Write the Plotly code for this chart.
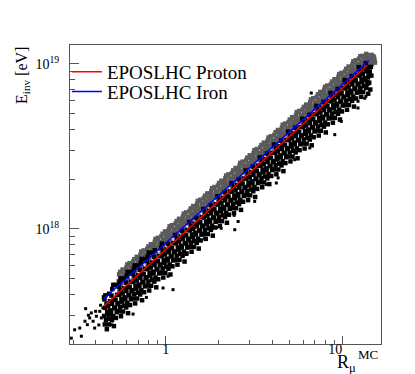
import plotly.graph_objects as go

# ---------------- data (x = R_mu^MC, energies in units of 1e18 eV) ----------------
iron_x = [
    0.545, 0.556, 0.542, 0.558, 0.550, 0.547, 0.552,
    0.597, 0.609, 0.594, 0.612, 0.603, 0.600, 0.606,
    0.654, 0.668, 0.651, 0.671, 0.661, 0.658, 0.664,
    0.717, 0.731, 0.713, 0.735, 0.724, 0.720, 0.727,
    0.786, 0.802, 0.782, 0.806, 0.794, 0.790, 0.798,
    0.862, 0.880, 0.858, 0.884, 0.871, 0.867, 0.875,
    0.945, 0.965, 0.941, 0.969, 0.955, 0.950, 0.960,
    1.037, 1.057, 1.031, 1.063, 1.047, 1.042, 1.052,
    1.137, 1.159, 1.131, 1.165, 1.148, 1.142, 1.153,
    1.246, 1.272, 1.240, 1.278, 1.259, 1.253, 1.265,
    1.366, 1.394, 1.359, 1.401, 1.380, 1.373, 1.387,
    1.499, 1.529, 1.491, 1.537, 1.514, 1.506, 1.520,
    1.643, 1.677, 1.635, 1.685, 1.660, 1.652, 1.668,
    1.802, 1.838, 1.793, 1.847, 1.820, 1.811, 1.829,
    1.975, 2.015, 1.965, 2.025, 1.995, 1.985, 2.005,
    2.166, 2.210, 2.155, 2.221, 2.188, 2.177, 2.199,
    2.375, 2.423, 2.363, 2.435, 2.399, 2.387, 2.411,
    2.604, 2.656, 2.591, 2.669, 2.630, 2.617, 2.643,
    2.855, 2.913, 2.841, 2.927, 2.884, 2.870, 2.898,
    3.130, 3.194, 3.115, 3.209, 3.162, 3.146, 3.178,
    3.432, 3.502, 3.415, 3.519, 3.467, 3.450, 3.484,
    3.764, 3.840, 3.745, 3.859, 3.802, 3.783, 3.821,
    4.127, 4.211, 4.106, 4.232, 4.169, 4.148, 4.190,
    4.525, 4.617, 4.502, 4.640, 4.571, 4.548, 4.594,
    4.962, 5.062, 4.937, 5.087, 5.012, 4.987, 5.037,
    5.440, 5.550, 5.413, 5.577, 5.495, 5.468, 5.522,
    5.966, 6.086, 5.936, 6.116, 6.026, 5.996, 6.056,
    6.541, 6.673, 6.508, 6.706, 6.607, 6.574, 6.640,
    7.172, 7.316, 7.135, 7.353, 7.244, 7.208, 7.280,
    7.864, 8.022, 7.824, 8.062, 7.943, 7.903, 7.983,
    8.623, 8.797, 8.579, 8.841, 8.710, 8.666, 8.754,
    9.455, 9.646, 9.407, 9.693, 9.550, 9.502, 9.598,
    10.37, 10.57, 10.31, 10.63, 10.47, 10.42, 10.52,
    11.37, 11.59, 11.31, 11.65, 11.48, 11.42, 11.54,
    12.46, 12.72, 12.40, 12.78, 12.59, 12.53, 12.65,
    13.66, 13.94, 13.59, 14.01, 13.80, 13.73,
    14.64, 14.94, 14.57, 15.01, 14.79, 14.72, 15.20, 15.30, 15.10,
    0.570, 0.582, 0.579, 0.573,
    0.625, 0.637, 0.634, 0.628,
    0.685, 0.699, 0.695, 0.689,
    0.750, 0.766, 0.762, 0.754,
    0.823, 0.839, 0.835, 0.827,
    0.903, 0.921, 0.917, 0.907,
    0.990, 1.010, 1.005, 0.995,
    1.085, 1.107, 1.101, 1.091,
    1.190, 1.214, 1.208, 1.196,
    1.305, 1.331, 1.325, 1.311,
    1.431, 1.459, 1.452, 1.438,
    1.569, 1.601, 1.593, 1.577,
    1.721, 1.755, 1.747, 1.729,
    1.887, 1.925, 1.916, 1.896,
    2.068, 2.110, 2.099, 2.079,
    2.268, 2.314, 2.302, 2.280,
    2.487, 2.537, 2.525, 2.499,
    2.726, 2.782, 2.768, 2.740,
    2.990, 3.050, 3.035, 3.005,
    3.278, 3.344, 3.328, 3.294,
    3.594, 3.666, 3.648, 3.612,
    3.941, 4.021, 4.001, 3.961,
    4.321, 4.409, 4.387, 4.343,
    4.738, 4.834, 4.810, 4.762,
    5.196, 5.300, 5.274, 5.222,
    5.696, 5.812, 5.783, 5.725,
    6.246, 6.372, 6.341, 6.277,
    6.849, 6.987, 6.953, 6.883,
    7.509, 7.661, 7.623, 7.547,
    8.234, 8.400, 8.359, 8.275,
    9.029, 9.211, 9.166, 9.074,
    9.90, 10.10, 10.05, 9.95,
    10.85, 11.07, 11.01, 10.91,
    11.90, 12.14, 12.08, 11.96,
    13.05, 13.31, 13.25, 13.11,
    14.31, 14.59, 14.52, 14.38,
]
iron_E = [
    0.531, 0.507, 0.484, 0.463, 0.442, 0.422, 0.550,
    0.567, 0.542, 0.517, 0.494, 0.471, 0.587, 0.610,
    0.634, 0.605, 0.578, 0.552, 0.527, 0.504, 0.656,
    0.677, 0.647, 0.617, 0.589, 0.563, 0.700, 0.729,
    0.757, 0.722, 0.690, 0.659, 0.629, 0.601, 0.784,
    0.808, 0.772, 0.737, 0.704, 0.672, 0.836, 0.870,
    0.903, 0.862, 0.824, 0.787, 0.751, 0.717, 0.935,
    0.964, 0.921, 0.879, 0.840, 0.802, 0.998, 1.038,
    1.078, 1.029, 0.983, 0.939, 0.897, 0.856, 1.117,
    1.151, 1.100, 1.050, 1.002, 0.957, 1.191, 1.239,
    1.287, 1.229, 1.174, 1.121, 1.071, 1.022, 1.333,
    1.374, 1.313, 1.253, 1.197, 1.143, 1.422, 1.480,
    1.536, 1.466, 1.401, 1.338, 1.278, 1.220, 1.591,
    1.640, 1.567, 1.496, 1.428, 1.364, 1.697, 1.766,
    1.833, 1.750, 1.672, 1.597, 1.525, 1.456, 1.899,
    1.958, 1.871, 1.785, 1.705, 1.628, 2.026, 2.108,
    2.188, 2.089, 1.996, 1.906, 1.820, 1.738, 2.266,
    2.337, 2.233, 2.131, 2.035, 1.943, 2.418, 2.516,
    2.613, 2.495, 2.383, 2.276, 2.174, 2.076, 2.706,
    2.789, 2.665, 2.543, 2.429, 2.319, 2.886, 3.003,
    3.118, 2.977, 2.844, 2.716, 2.594, 2.477, 3.229,
    3.330, 3.182, 3.036, 2.900, 2.769, 3.446, 3.585,
    3.723, 3.554, 3.395, 3.243, 3.097, 2.958, 3.856,
    3.975, 3.798, 3.624, 3.462, 3.306, 4.113, 4.280,
    4.444, 4.243, 4.053, 3.871, 3.697, 3.530, 4.603,
    4.744, 4.532, 4.325, 4.131, 3.945, 4.909, 5.107,
    5.304, 5.064, 4.837, 4.620, 4.412, 4.213, 5.493,
    5.663, 5.410, 5.163, 4.931, 4.709, 5.860, 6.097,
    6.330, 6.043, 5.773, 5.514, 5.266, 5.029, 6.556,
    6.760, 6.459, 6.164, 5.886, 5.621, 6.995, 7.278,
    7.555, 7.213, 6.890, 6.581, 6.285, 6.002, 7.825,
    8.068, 7.709, 7.356, 7.026, 6.709, 8.349, 8.687,
    9.019, 8.610, 8.225, 7.856, 7.502, 7.165, 9.341,
    9.632, 9.203, 8.782, 8.388, 8.010, 9.967, 10.37,
    10.77, 10.28, 9.819, 9.378, 8.956, 8.553, 11.15,
    11.50, 10.99, 10.49, 10.01, 9.563, 11.30,
    11.35, 11.15, 10.85, 10.95, 10.46, 9.986, 10.60, 10.20, 11.00,
    0.568, 0.536, 0.512, 0.489,
    0.621, 0.586, 0.559, 0.535,
    0.678, 0.640, 0.611, 0.584,
    0.741, 0.699, 0.668, 0.638,
    0.809, 0.764, 0.730, 0.697,
    0.884, 0.835, 0.797, 0.762,
    0.966, 0.912, 0.871, 0.832,
    1.055, 0.996, 0.951, 0.909,
    1.153, 1.088, 1.040, 0.994,
    1.260, 1.189, 1.136, 1.086,
    1.377, 1.299, 1.241, 1.186,
    1.504, 1.420, 1.356, 1.296,
    1.643, 1.551, 1.481, 1.416,
    1.795, 1.694, 1.618, 1.547,
    1.961, 1.851, 1.768, 1.690,
    2.143, 2.022, 1.932, 1.846,
    2.341, 2.209, 2.110, 2.017,
    2.558, 2.414, 2.306, 2.204,
    2.795, 2.638, 2.520, 2.408,
    3.053, 2.881, 2.752, 2.630,
    3.335, 3.148, 3.007, 2.874,
    3.645, 3.440, 3.286, 3.140,
    3.982, 3.759, 3.590, 3.431,
    4.351, 4.106, 3.922, 3.748,
    4.754, 4.486, 4.285, 4.096,
    5.192, 4.900, 4.680, 4.473,
    5.673, 5.355, 5.114, 4.888,
    6.198, 5.849, 5.587, 5.340,
    6.771, 6.391, 6.104, 5.834,
    7.399, 6.983, 6.670, 6.374,
    8.081, 7.627, 7.285, 6.963,
    8.831, 8.334, 7.960, 7.608,
    9.647, 9.105, 8.697, 8.312,
    10.54, 9.950, 9.504, 9.083,
    11.20, 10.87, 10.38, 9.922,
    11.25, 11.05, 10.80, 10.50,
]

proton_x = [
    0.450, 0.462, 0.454, 0.466, 0.448, 0.459, 0.452, 0.464, 0.455, 0.447,
    0.493, 0.507, 0.497, 0.511, 0.491, 0.504, 0.496, 0.509, 0.498, 0.505,
    0.542, 0.557, 0.546, 0.561, 0.539, 0.553, 0.545, 0.558, 0.548, 0.555,
    0.594, 0.610, 0.599, 0.615, 0.591, 0.606, 0.597, 0.612, 0.601, 0.608,
    0.651, 0.669, 0.656, 0.674, 0.648, 0.664, 0.654, 0.671, 0.659, 0.666,
    0.713, 0.733, 0.719, 0.738, 0.710, 0.728, 0.717, 0.735, 0.722, 0.730,
    0.782, 0.804, 0.788, 0.810, 0.778, 0.798, 0.786, 0.806, 0.790, 0.800,
    0.858, 0.881, 0.865, 0.888, 0.854, 0.875, 0.862, 0.884, 0.868,
    0.941, 0.966, 0.948, 0.974, 0.936, 0.960, 0.945, 0.969, 0.952,
    1.031, 1.060, 1.040, 1.068, 1.026, 1.052, 1.037, 1.063,
    1.131, 1.162, 1.140, 1.171, 1.125, 1.154, 1.137, 1.165,
    1.240, 1.274, 1.250, 1.284, 1.234, 1.265, 1.246, 1.278,
    1.359, 1.397, 1.370, 1.408, 1.352, 1.387, 1.366, 1.401,
    1.491, 1.532, 1.503, 1.544, 1.484, 1.522, 1.499, 1.537,
    1.635, 1.680, 1.648, 1.693, 1.627, 1.668, 1.643, 1.685,
    1.793, 1.842, 1.807, 1.856, 1.784, 1.829, 1.802, 1.847,
    1.965, 2.019, 1.981, 2.035, 1.955, 2.005, 1.975, 2.025,
    2.155, 2.214, 2.173, 2.232, 2.144, 2.199, 2.166, 2.221,
    2.363, 2.428, 2.382, 2.447, 2.351, 2.411, 2.375, 2.435,
    2.591, 2.662, 2.612, 2.683, 2.577, 2.643, 2.604, 2.669,
    2.841, 2.919, 2.864, 2.942, 2.826, 2.898, 2.855, 2.927,
    3.115, 3.200, 3.140, 3.225, 3.099, 3.178, 3.130, 3.209,
    3.415, 3.509, 3.443, 3.536, 3.398, 3.484, 3.432, 3.519,
    3.745, 3.848, 3.775, 3.878, 3.726, 3.821, 3.764, 3.859,
    4.106, 4.219, 4.140, 4.252, 4.086, 4.190, 4.127, 4.232,
    4.502, 4.626, 4.539, 4.662, 4.480, 4.594, 4.525, 4.640,
    4.937, 5.072, 4.977, 5.112, 4.912, 5.037, 4.962, 5.087,
    5.413, 5.561, 5.457, 5.605, 5.385, 5.522, 5.440, 5.577,
    5.936, 6.098, 5.984, 6.147, 5.905, 6.056, 5.966, 6.116,
    6.508, 6.686, 6.561, 6.739, 6.475, 6.640, 6.541, 6.706,
    7.135, 7.331, 7.193, 7.389, 7.099, 7.280, 7.172, 7.353,
    7.824, 8.038, 7.887, 8.102, 7.784, 7.983, 7.864, 8.062,
    8.579, 8.815, 8.649, 8.884, 8.536, 8.754, 8.623, 8.841,
    9.407, 9.665, 9.483, 9.741, 9.359, 9.598, 9.455, 9.693,
    10.31, 10.60, 10.40, 10.68, 10.26, 10.52, 10.37, 10.63,
    11.31, 11.62, 11.40, 11.71, 11.25, 11.54, 11.37, 11.65,
    12.40, 12.74, 12.50, 12.84, 12.34, 12.65, 12.46, 12.78,
    13.59, 13.97, 13.70, 14.08, 13.52, 13.87, 13.66, 14.01,
    14.50, 14.30, 14.60, 14.20, 14.40,
    0.483, 0.473, 0.485, 0.471, 0.480, 0.476, 0.478,
    0.530, 0.520, 0.533, 0.517, 0.528, 0.522, 0.525,
    0.582, 0.570, 0.585, 0.567, 0.579, 0.573, 0.576,
    0.637, 0.625, 0.640, 0.622, 0.634, 0.628, 0.631,
    0.699, 0.685, 0.702, 0.682, 0.695, 0.689, 0.692,
    0.766, 0.750, 0.769, 0.747, 0.762, 0.754, 0.758,
    0.839, 0.823, 0.843, 0.819, 0.835, 0.827, 0.831,
    0.921, 0.903, 0.926, 0.898, 0.917, 0.907,
    1.010, 0.990, 1.015, 0.985, 1.005, 0.995,
    1.107, 1.085, 1.112, 1.080, 1.101, 1.091,
    1.214, 1.190, 1.220, 1.184, 1.208, 1.196,
    1.331, 1.305, 1.338, 1.298, 1.325, 1.311,
    1.459, 1.431, 1.467, 1.423, 1.452, 1.438,
    1.601, 1.569, 1.609, 1.561, 1.593, 1.577,
    1.755, 1.721, 1.764, 1.712, 1.747, 1.729,
    1.925, 1.887, 1.935, 1.877, 1.916, 1.896,
    2.110, 2.068, 2.120, 2.058, 2.099, 2.079,
    2.314, 2.268, 2.325, 2.257, 2.302, 2.280,
    2.537, 2.487, 2.550, 2.474, 2.525, 2.499,
    2.782, 2.726, 2.795, 2.713, 2.768, 2.740,
    3.050, 2.990, 3.065, 2.975, 3.035, 3.005,
    3.344, 3.278, 3.361, 3.261, 3.328, 3.294,
    3.666, 3.594, 3.684, 3.576, 3.648, 3.612,
    4.021, 3.941, 4.041, 3.921, 4.001, 3.961,
    4.409, 4.321, 4.430, 4.300, 4.387, 4.343,
    4.834, 4.738, 4.858, 4.714, 4.810, 4.762,
    5.300, 5.196, 5.327, 5.169, 5.274, 5.222,
    5.812, 5.696, 5.840, 5.668, 5.783, 5.725,
    6.372, 6.246, 6.404, 6.214, 6.341, 6.277,
    6.987, 6.849, 7.022, 6.814, 6.953, 6.883,
    7.661, 7.509, 7.699, 7.471, 7.623, 7.547,
    8.400, 8.234, 8.442, 8.192, 8.359, 8.275,
    9.211, 9.029, 9.257, 8.983, 9.166, 9.074,
    10.10, 9.90, 10.15, 9.85, 10.05, 9.95,
    11.07, 10.85, 11.12, 10.80, 11.01, 10.91,
    12.14, 11.90, 12.20, 11.84, 12.08, 11.96,
    13.31, 13.05, 13.38, 12.98, 13.25, 13.11,
]
proton_E = [
    0.374, 0.353, 0.333, 0.314, 0.297, 0.280, 0.264, 0.247, 0.396, 0.385,
    0.395, 0.373, 0.352, 0.333, 0.314, 0.296, 0.280, 0.258, 0.433, 0.459,
    0.447, 0.422, 0.399, 0.376, 0.355, 0.336, 0.317, 0.296, 0.474, 0.502,
    0.473, 0.446, 0.421, 0.398, 0.376, 0.355, 0.335, 0.309, 0.518, 0.549,
    0.536, 0.506, 0.478, 0.451, 0.426, 0.402, 0.379, 0.354, 0.568, 0.601,
    0.566, 0.535, 0.505, 0.477, 0.450, 0.425, 0.401, 0.370, 0.621, 0.658,
    0.641, 0.606, 0.572, 0.540, 0.510, 0.481, 0.454, 0.424, 0.679, 0.720,
    0.678, 0.640, 0.604, 0.571, 0.539, 0.508, 0.480, 0.443, 0.743,
    0.768, 0.725, 0.685, 0.646, 0.610, 0.576, 0.544, 0.508, 0.814,
    0.812, 0.767, 0.724, 0.683, 0.645, 0.609, 0.575, 0.530,
    0.920, 0.868, 0.820, 0.774, 0.731, 0.690, 0.651, 0.608,
    0.972, 0.918, 0.867, 0.818, 0.772, 0.729, 0.688, 0.635,
    1.102, 1.040, 0.982, 0.927, 0.875, 0.826, 0.780, 0.728,
    1.165, 1.099, 1.038, 0.980, 0.925, 0.873, 0.824, 0.761,
    1.319, 1.245, 1.176, 1.110, 1.048, 0.989, 0.934, 0.871,
    1.394, 1.316, 1.243, 1.173, 1.108, 1.046, 0.987, 0.911,
    1.579, 1.491, 1.408, 1.329, 1.255, 1.184, 1.118, 1.043,
    1.670, 1.576, 1.488, 1.405, 1.326, 1.252, 1.182, 1.091,
    1.891, 1.786, 1.686, 1.591, 1.502, 1.418, 1.339, 1.249,
    1.999, 1.887, 1.782, 1.682, 1.588, 1.499, 1.415, 1.306,
    2.264, 2.138, 2.018, 1.905, 1.798, 1.698, 1.603, 1.496,
    2.393, 2.259, 2.133, 2.014, 1.901, 1.795, 1.694, 1.563,
    2.711, 2.559, 2.416, 2.281, 2.153, 2.033, 1.919, 1.791,
    2.865, 2.705, 2.554, 2.411, 2.276, 2.149, 2.028, 1.871,
    3.247, 3.065, 2.894, 2.732, 2.579, 2.435, 2.299, 2.145,
    3.431, 3.239, 3.058, 2.887, 2.726, 2.573, 2.429, 2.241,
    3.886, 3.669, 3.464, 3.270, 3.087, 2.914, 2.751, 2.568,
    4.108, 3.879, 3.662, 3.457, 3.263, 3.081, 2.909, 2.683,
    4.654, 4.393, 4.148, 3.916, 3.696, 3.490, 3.295, 3.074,
    4.920, 4.645, 4.385, 4.140, 3.908, 3.689, 3.483, 3.214,
    5.573, 5.261, 4.967, 4.689, 4.427, 4.179, 3.946, 3.682,
    5.891, 5.561, 5.251, 4.957, 4.679, 4.417, 4.170, 3.848,
    6.673, 6.300, 5.948, 5.615, 5.301, 5.004, 4.725, 4.409,
    7.053, 6.659, 6.287, 5.935, 5.603, 5.289, 4.993, 4.607,
    7.991, 7.545, 7.122, 6.724, 6.348, 5.993, 5.658, 5.280,
    8.447, 7.975, 7.529, 7.108, 6.710, 6.335, 5.980, 5.518,
    9.567, 9.033, 8.527, 8.050, 7.600, 7.175, 6.774, 6.321,
    10.11, 9.547, 9.014, 8.510, 8.033, 7.584, 7.160, 6.606,
    9.60, 9.00, 8.50, 7.70, 7.00,
    0.365, 0.340, 0.321, 0.303, 0.286, 0.264, 0.405,
    0.399, 0.373, 0.352, 0.332, 0.313, 0.289, 0.458,
    0.437, 0.407, 0.385, 0.363, 0.343, 0.316, 0.501,
    0.478, 0.446, 0.421, 0.397, 0.375, 0.346, 0.548,
    0.523, 0.488, 0.461, 0.435, 0.411, 0.379, 0.600,
    0.572, 0.534, 0.504, 0.476, 0.449, 0.414, 0.657,
    0.626, 0.584, 0.551, 0.521, 0.491, 0.453, 0.718,
    0.685, 0.639, 0.603, 0.570, 0.538, 0.496,
    0.750, 0.700, 0.660, 0.624, 0.589, 0.543,
    0.820, 0.766, 0.722, 0.682, 0.644, 0.594,
    0.898, 0.838, 0.791, 0.747, 0.705, 0.650,
    0.983, 0.917, 0.865, 0.817, 0.771, 0.711,
    1.075, 1.003, 0.947, 0.894, 0.844, 0.778,
    1.177, 1.098, 1.036, 0.979, 0.924, 0.852,
    1.288, 1.201, 1.134, 1.071, 1.011, 0.932,
    1.409, 1.315, 1.241, 1.172, 1.106, 1.020,
    1.542, 1.439, 1.358, 1.282, 1.210, 1.116,
    1.687, 1.574, 1.486, 1.403, 1.324, 1.221,
    1.846, 1.723, 1.626, 1.536, 1.449, 1.336,
    2.020, 1.885, 1.778, 1.680, 1.585, 1.462,
    2.210, 2.062, 1.946, 1.838, 1.735, 1.600,
    2.418, 2.257, 2.129, 2.011, 1.898, 1.750,
    2.646, 2.469, 2.330, 2.201, 2.077, 1.915,
    2.895, 2.702, 2.549, 2.408, 2.273, 2.095,
    3.169, 2.957, 2.791, 2.636, 2.488, 2.294,
    3.467, 3.235, 3.053, 2.884, 2.722, 2.509,
    3.794, 3.540, 3.340, 3.155, 2.978, 2.746,
    4.152, 3.874, 3.655, 3.453, 3.259, 3.005,
    4.543, 4.239, 4.000, 3.778, 3.566, 3.288,
    4.972, 4.639, 4.378, 4.135, 3.902, 3.598,
    5.440, 5.076, 4.790, 4.525, 4.270, 3.937,
    5.953, 5.554, 5.241, 4.951, 4.672, 4.308,
    6.514, 6.079, 5.736, 5.418, 5.113, 4.715,
    7.127, 6.650, 6.276, 5.928, 5.594, 5.158,
    7.801, 7.279, 6.869, 6.488, 6.123, 5.646,
    8.536, 7.965, 7.516, 7.100, 6.700, 6.178,
    9.340, 8.715, 8.224, 7.768, 7.331, 6.759,
]

# sparse proton events (low-R tail and outliers)
proton_sparse_x = [
    0.292, 0.305, 0.326, 0.349, 0.333, 0.371, 0.360, 0.388, 0.396, 0.379,
    0.405, 0.423, 0.432, 0.441, 0.461, 0.471, 0.482, 0.492, 0.352, 0.401,
    0.418, 0.365, 0.428,
    0.653, 0.966, 1.10, 0.777, 1.03, 1.31, 1.49, 1.66, 1.46, 1.37,
    1.94, 2.06, 2.46, 2.44, 2.57, 3.19, 3.71, 4.23, 4.33, 5.37,
    6.54, 9.06, 9.87, 12.27, 13.4, 13.6, 14.0, 14.1, 12.27, 6.67,
]
proton_sparse_E = [
    0.218, 0.245, 0.251, 0.276, 0.224, 0.289, 0.263, 0.276, 0.251, 0.310,
    0.296, 0.317, 0.289, 0.332, 0.348, 0.289, 0.302, 0.263, 0.329, 0.317,
    0.262, 0.300, 0.345,
    0.305, 0.439, 0.429, 0.385, 0.517, 0.700, 0.820, 0.880, 0.785, 0.842,
    1.02, 1.01, 0.99, 1.21, 1.11, 1.47, 1.86, 1.90, 2.04, 2.63,
    3.10, 3.73, 4.49, 5.41, 6.20, 6.37, 7.85, 8.20, 5.94, 6.67,
]

# fitted lines
fit_proton_x = [0.446, 13.86]
fit_proton_E = [0.340, 9.82]
fit_iron_x = [0.446, 14.11]
fit_iron_E = [0.378, 10.47]

x_tick_vals = [1, 10]
x_tick_text = ["1", "10&nbsp;&nbsp;&nbsp;&nbsp;"]
x_minor_vals = [0.3, 0.4, 0.5, 0.6, 0.7, 0.8, 0.9, 2, 3, 4, 5, 6, 7, 8, 9]
y_tick_vals = [1e18, 1e19]
y_tick_text = ["10<sup>18</sup>", "10<sup>19</sup>"]
y_minor_vals = [3e17, 4e17, 5e17, 6e17, 7e17, 8e17, 9e17,
                2e18, 3e18, 4e18, 5e18, 6e18, 7e18, 8e18, 9e18]

EEV = 1e18
FONT = "Liberation Serif"

fig = go.Figure()
fig.add_trace(go.Scatter(
    x=iron_x, y=[v * EEV for v in iron_E], mode="markers",
    marker=dict(symbol="square", size=4.5, color="#5b5b5b", line=dict(width=0)),
    showlegend=False, hoverinfo="skip"))
fig.add_trace(go.Scatter(
    x=proton_x, y=[v * EEV for v in proton_E], mode="markers",
    marker=dict(symbol="square", size=4.5, color="black", line=dict(width=0)),
    showlegend=False, hoverinfo="skip"))
fig.add_trace(go.Scatter(
    x=proton_sparse_x, y=[v * EEV for v in proton_sparse_E], mode="markers",
    marker=dict(symbol="square", size=3, color="black", line=dict(width=0)),
    showlegend=False, hoverinfo="skip"))
fig.add_trace(go.Scatter(
    x=fit_proton_x, y=[v * EEV for v in fit_proton_E], mode="lines",
    line=dict(color="#ff0000", width=1.5), name="EPOSLHC Proton",
    legend="legend"))
fig.add_trace(go.Scatter(
    x=fit_iron_x, y=[v * EEV for v in fit_iron_E], mode="lines",
    line=dict(color="#0000ff", width=1.5), name="EPOSLHC Iron",
    legend="legend2"))

axis_common = dict(
    type="log", showgrid=False, zeroline=False, showline=True,
    linecolor="#555555", linewidth=1, mirror=True,
    ticks="inside", tickcolor="#555555", tickwidth=1,
    tickfont=dict(family=FONT, size=14, color="black"),
)
fig.update_xaxes(
    **axis_common, range=[-0.542, 1.219], ticklen=8,
    tickmode="array", tickvals=x_tick_vals, ticktext=x_tick_text,
    ticklabelstandoff=-8,
    minor=dict(ticks="inside", ticklen=4, tickcolor="#555555",
               tickmode="array", tickvals=x_minor_vals, showgrid=False),
)
fig.update_yaxes(
    **axis_common, range=[17.303, 19.115], ticklen=9,
    tickmode="array", tickvals=y_tick_vals, ticktext=y_tick_text,
    ticklabelstandoff=7,
    minor=dict(ticks="inside", ticklen=5, tickcolor="#555555",
               tickmode="array", tickvals=y_minor_vals, showgrid=False),
)

legend_common = dict(
    xanchor="left", yanchor="middle", bgcolor="rgba(0,0,0,0)", borderwidth=0,
    font=dict(family=FONT, size=19, color="black"),
)
fig.update_layout(
    width=415, height=374,
    margin=dict(l=62, r=42, t=37, b=38),
    paper_bgcolor="white", plot_bgcolor="white",
    font=dict(family=FONT, color="black"),
    legend=dict(x=-0.010, y=0.910, **legend_common),
    legend2=dict(x=-0.010, y=0.844, **legend_common),
    annotations=[
        dict(text="E<sub>inv</sub> [eV]", textangle=-90,
             xref="paper", yref="paper", x=0, y=1,
             xanchor="right", yanchor="top", xshift=-36, yshift=0,
             showarrow=False, font=dict(family=FONT, size=16, color="black")),
        dict(text="R<sub>μ</sub>",
             xref="paper", yref="paper", x=1, y=0,
             xanchor="right", yanchor="top", xshift=-23, yshift=-6,
             showarrow=False, font=dict(family=FONT, size=18, color="black")),
        dict(text="MC",
             xref="paper", yref="paper", x=1, y=0,
             xanchor="right", yanchor="top", xshift=-1, yshift=-1,
             showarrow=False, font=dict(family=FONT, size=13, color="black")),
    ],
)

fig.write_html("out.html")
